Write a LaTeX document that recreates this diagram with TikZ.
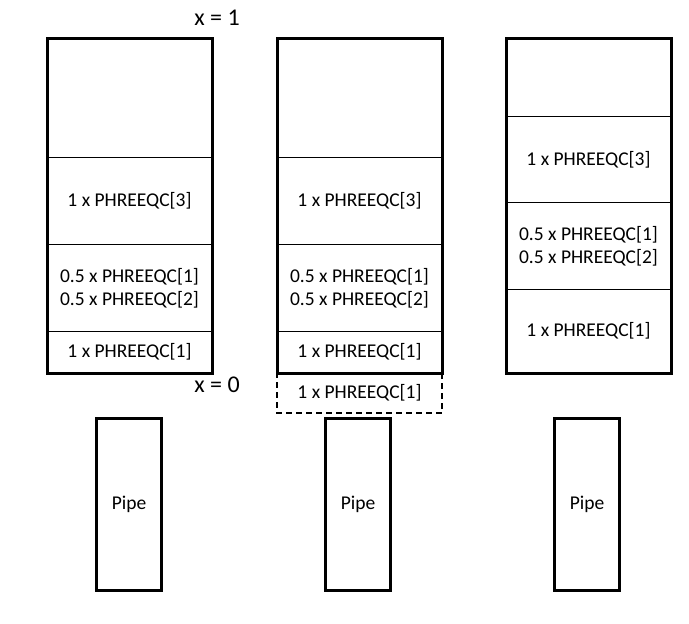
\documentclass[tikz,border=0pt]{standalone}
\usepackage{fontspec}
\setmainfont{Carlito}
\usetikzlibrary{positioning}
\tikzset{
  cell/.style={draw, line width=1pt, anchor=north west, inner sep=0pt,
    minimum width=164pt, align=center, font=\fontsize{19.5}{23}\selectfont},
  frame/.style={line width=3pt},
  pipe/.style={draw, line width=3pt, minimum width=65pt, minimum height=172pt,
    inner sep=0pt, font=\fontsize{19.5}{23}\selectfont},
  xlabel/.style={font=\fontsize{24}{26}\selectfont, inner sep=0pt}
}

\begin{document}
\begin{tikzpicture}[x=1pt,y=-1pt,line join=miter]
  \useasboundingbox (0,0) rectangle (689,624);

  % first column
  \node[cell, minimum height=119pt] (a0) at (47,38) {};
  \node[cell, minimum height=87pt] (a1) at (47,157) {1 x PHREEQC[3]};
  \node[cell, minimum height=87pt] (a2) at (47,244) {0.5 x PHREEQC[1]\\0.5 x PHREEQC[2]};
  \node[cell, minimum height=41pt] (a3) at (47,331) {1 x PHREEQC[1]};
  \draw[frame] (a0.north west) rectangle (a3.south east);

  % second column
  \node[cell, minimum height=119pt] (b0) at (277,38) {};
  \node[cell, minimum height=87pt] (b1) at (277,157) {1 x PHREEQC[3]};
  \node[cell, minimum height=87pt] (b2) at (277,244) {0.5 x PHREEQC[1]\\0.5 x PHREEQC[2]};
  \node[cell, minimum height=41pt] (b3) at (277,331) {1 x PHREEQC[1]};
  \node[cell, minimum height=40pt, draw=none] (b4) at (277,372) {1 x PHREEQC[1]};
  \draw[line width=1.8pt, dash pattern=on 6pt off 4pt] (b4.north west) -- (b4.south west)
      -- (b4.south east) -- (b4.north east);
  \draw[frame] (b0.north west) rectangle (b3.south east);

  % third column
  \node[cell, minimum height=78pt] (c0) at (506,38) {};
  \node[cell, minimum height=86pt] (c1) at (506,116) {1 x PHREEQC[3]};
  \node[cell, minimum height=87pt] (c2) at (506,202) {0.5 x PHREEQC[1]\\0.5 x PHREEQC[2]};
  \node[cell, minimum height=83pt] (c3) at (506,289) {1 x PHREEQC[1]};
  \draw[frame] (c0.north west) rectangle (c3.south east);

  \node[xlabel] (xone) at (217,18) {x = 1};
  \node[xlabel] (xzero) at (217,385) {x = 0};

  % pipes
  \foreach \name/\px in {pa/129, pb/358, pc/587}
    \node[pipe] (\name) at (\px,504) {Pipe};
\end{tikzpicture}
\end{document}
